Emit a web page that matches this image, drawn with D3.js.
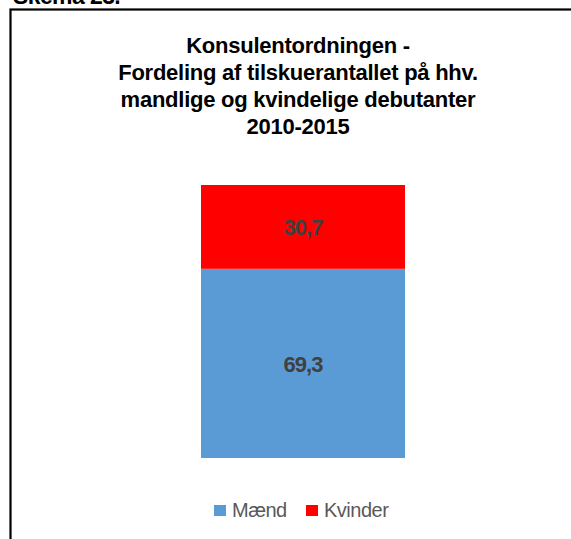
<!DOCTYPE html>
<html lang="da">
<head>
<meta charset="UTF-8">
<title>Konsulentordningen</title>
<script src="https://d3js.org/d3.v7.min.js"></script>
<style>
  body { margin: 0; background: #fff; }
  svg { display: block; font-family: "Liberation Sans", Arial, sans-serif; }
</style>
</head>
<body>
<div id="chart"></div>
<script>
const series = ['Mænd', 'Kvinder']
const values = [69.3, 30.7]
const colors = ['#5b9bd5', '#ff0000']
const titleLines = ['Konsulentordningen -', 'Fordeling af tilskuerantallet på hhv.', 'mandlige og kvindelige debutanter', '2010-2015']

const W = 571, H = 539
const svg = d3.select('#chart').append('svg').attr('width', W).attr('height', H)

// heading above the frame, cut off by the top edge like in the original
svg.append('text').attr('x', 13).attr('y', 4)
  .style('font-size', '23px').style('font-weight', 'bold').style('letter-spacing', '-0.6px')
  .text('Skema 23.')

// frame
svg.append('rect').attr('x', 10.5).attr('y', 9.5).attr('width', 600).attr('height', 600)
  .attr('fill', 'none').attr('stroke', '#000').attr('stroke-width', 2.2)

// title
svg.append('g').selectAll('text').data(titleLines).enter().append('text')
  .attr('x', 298).attr('y', (d, i) => 53 + i * 27)
  .attr('text-anchor', 'middle')
  .style('font-size', '22px').style('font-weight', 'bold').style('letter-spacing', '-0.25px')
  .text(d => d)

// stacked bar
const y = d3.scaleLinear().domain([0, 100]).range([458, 185])
const x = d3.scaleBand().domain(['2010-2015']).range([201, 405]).padding(0)

let acc = 0
const stack = values.map((v, i) => { const s = { v, i, y0: acc, y1: acc + v }; acc += v; return s })

const bars = svg.append('g')
bars.selectAll('rect').data(stack).enter().append('rect')
  .attr('x', x('2010-2015')).attr('width', x.bandwidth())
  .attr('y', d => y(d.y1)).attr('height', d => y(d.y0) - y(d.y1))
  .attr('fill', d => colors[d.i])

bars.selectAll('text').data(stack).enter().append('text')
  .attr('x', x('2010-2015') + x.bandwidth() / 2)
  .attr('y', d => (y(d.y0) + y(d.y1)) / 2 + 8.5)
  .attr('text-anchor', 'middle')
  .style('font-size', '22px').style('font-weight', 'bold').style('letter-spacing', '-1px')
  .attr('fill', '#404040')
  .text(d => d3.format('.1f')(d.v).replace('.', ','))

// legend
const lx = [214, 306]
const legend = svg.append('g')
legend.selectAll('rect').data(series).enter().append('rect')
  .attr('x', (d, i) => lx[i]).attr('y', 505).attr('width', 12).attr('height', 11)
  .attr('fill', (d, i) => colors[i])
legend.selectAll('text').data(series).enter().append('text')
  .attr('x', (d, i) => lx[i] + 18).attr('y', 517)
  .style('font-size', '20px').style('letter-spacing', '-0.5px')
  .attr('fill', '#595959')
  .text(d => d)
</script>
</body>
</html>
